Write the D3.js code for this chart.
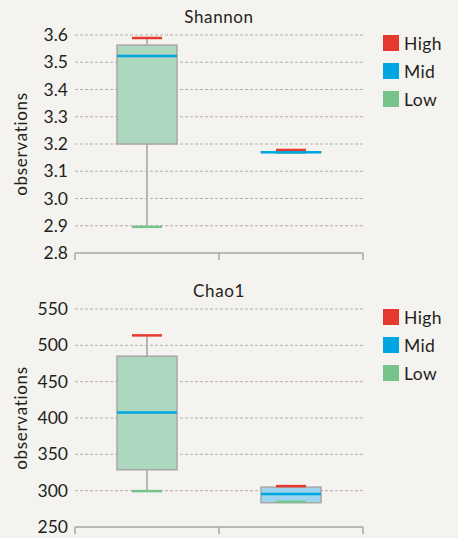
<!DOCTYPE html>
<html>
<head>
<meta charset="utf-8">
<script src="https://cdn.jsdelivr.net/npm/d3@7"></script>
<style>
  body { margin: 0; background: #f5f3ef; }
  svg { display: block; font-family: Lato, "Open Sans", sans-serif; }
</style>
</head>
<body>
<svg id="chart" width="458" height="538"></svg>
<script>
// groups along x (no visible labels)
const groups = ["g1", "g2"];
const levels = ["High", "Mid", "Low"];

// Shannon
const shannonTicks = [2.8, 2.9, 3.0, 3.1, 3.2, 3.3, 3.4, 3.5, 3.6];
const shannonQ1 = [3.200, 3.169];
const shannonQ3 = [3.563, 3.171];
const shannonHigh = [3.589, 3.178];
const shannonMid = [3.523, 3.170];
const shannonLow = [2.896, 3.168];

// Chao1
const chaoTicks = [250, 300, 350, 400, 450, 500, 550];
const chaoQ1 = [328.8, 283.4];
const chaoQ3 = [485.0, 304.9];
const chaoHigh = [513.7, 306.3];
const chaoMid = [407.5, 295.3];
const chaoLow = [299.4, 284.7];

const levelColor = { High: "#e8392f", Mid: "#00a6e2", Low: "#74c48c" };
const boxFill = ["#acd8c0", "#9cd4ef"];

const svg = d3.select("#chart");

const panel = (title, ticks, q1, q3, high, mid, low, top, fmt) => {
	const y0 = top + 35, y1 = top + 253;
	const y = d3.scaleLinear().domain([ticks[0], ticks[ticks.length - 1]]).range([y1, y0]);
	const x = d3.scaleBand().domain(groups).range([75, 363]);
	const g = svg.append("g");

	// grid
	g.selectAll(".grid").data(ticks.slice(1)).join("line")
		.attr("x1", 75).attr("x2", 363)
		.attr("y1", d => y(d)).attr("y2", d => y(d))
		.attr("stroke", "#b3b1ad").attr("stroke-width", 1)
		.attr("stroke-dasharray", "3,2");

	// y labels
	const ya = g.append("g").attr("transform", "translate(75,0)")
		.call(d3.axisLeft(y).tickValues(ticks).tickFormat(fmt).tickSize(0).tickPadding(7));
	ya.select(".domain").remove();
	ya.selectAll("text").attr("font-size", 17.5).attr("fill", "#231f20")
		.attr("font-family", "Lato, sans-serif");

	// x axis
	const edges = groups.map(d => x(d)).concat([x.range()[1]]);
	g.append("line").attr("x1", 75).attr("x2", 363).attr("y1", y1).attr("y2", y1)
		.attr("stroke", "#a9a7a4").attr("stroke-width", 1.5);
	g.selectAll(".xt").data(edges).join("line")
		.attr("x1", d => d).attr("x2", d => d).attr("y1", y1).attr("y2", y1 + 7)
		.attr("stroke", "#a9a7a4").attr("stroke-width", 1.5);

	// title
	g.append("text").attr("x", 219).attr("y", top + 23).attr("text-anchor", "middle")
		.attr("font-size", 17).attr("letter-spacing", 0.6).attr("fill", "#231f20").text(title);

	// y title
	g.append("text").attr("transform", `translate(27,${(y0 + y1) / 2}) rotate(-90)`)
		.attr("text-anchor", "middle").attr("font-size", 17).attr("letter-spacing", 0.7)
		.attr("fill", "#231f20").text("observations");

	const bw = 60, cw = 30;
	groups.forEach((k, i) => {
		const cx = x(k) + x.bandwidth() / 2;
		// whiskers
		g.append("line").attr("x1", cx).attr("x2", cx)
			.attr("y1", y(high[i])).attr("y2", y(q3[i]))
			.attr("stroke", "#b8b6b3").attr("stroke-width", 2);
		g.append("line").attr("x1", cx).attr("x2", cx)
			.attr("y1", y(q1[i])).attr("y2", y(low[i]))
			.attr("stroke", "#b8b6b3").attr("stroke-width", 2);
		// box
		g.append("rect").attr("x", cx - bw / 2).attr("width", bw)
			.attr("y", y(q3[i])).attr("height", y(q1[i]) - y(q3[i]))
			.attr("fill", boxFill[i]).attr("stroke", "#a9a7a4").attr("stroke-width", 1.5);
		// caps and median
		g.append("line").attr("x1", cx - cw / 2).attr("x2", cx + cw / 2)
			.attr("y1", y(high[i])).attr("y2", y(high[i]))
			.attr("stroke", levelColor.High).attr("stroke-width", 2.5);
		g.append("line").attr("x1", cx - cw / 2).attr("x2", cx + cw / 2)
			.attr("y1", y(low[i])).attr("y2", y(low[i]))
			.attr("stroke", levelColor.Low).attr("stroke-width", 2.5);
		g.append("line").attr("x1", cx - bw / 2).attr("x2", cx + bw / 2)
			.attr("y1", y(mid[i])).attr("y2", y(mid[i]))
			.attr("stroke", levelColor.Mid).attr("stroke-width", 2.5);
	});

	// legend
	const lg = g.selectAll(".lg").data(levels).join("g")
		.attr("transform", (d, i) => `translate(383,${top + 35 + i * 28})`);
	lg.append("rect").attr("width", 16).attr("height", 16).attr("fill", d => levelColor[d]);
	lg.append("text").attr("x", 21).attr("y", 14.5).attr("font-size", 17.5)
		.attr("letter-spacing", 0.4).attr("fill", "#231f20").text(d => d);
};

panel("Shannon", shannonTicks, shannonQ1, shannonQ3, shannonHigh, shannonMid, shannonLow, 0, d3.format(".1f"));
panel("Chao1", chaoTicks, chaoQ1, chaoQ3, chaoHigh, chaoMid, chaoLow, 274, d3.format("d"));
</script>
</body>
</html>
